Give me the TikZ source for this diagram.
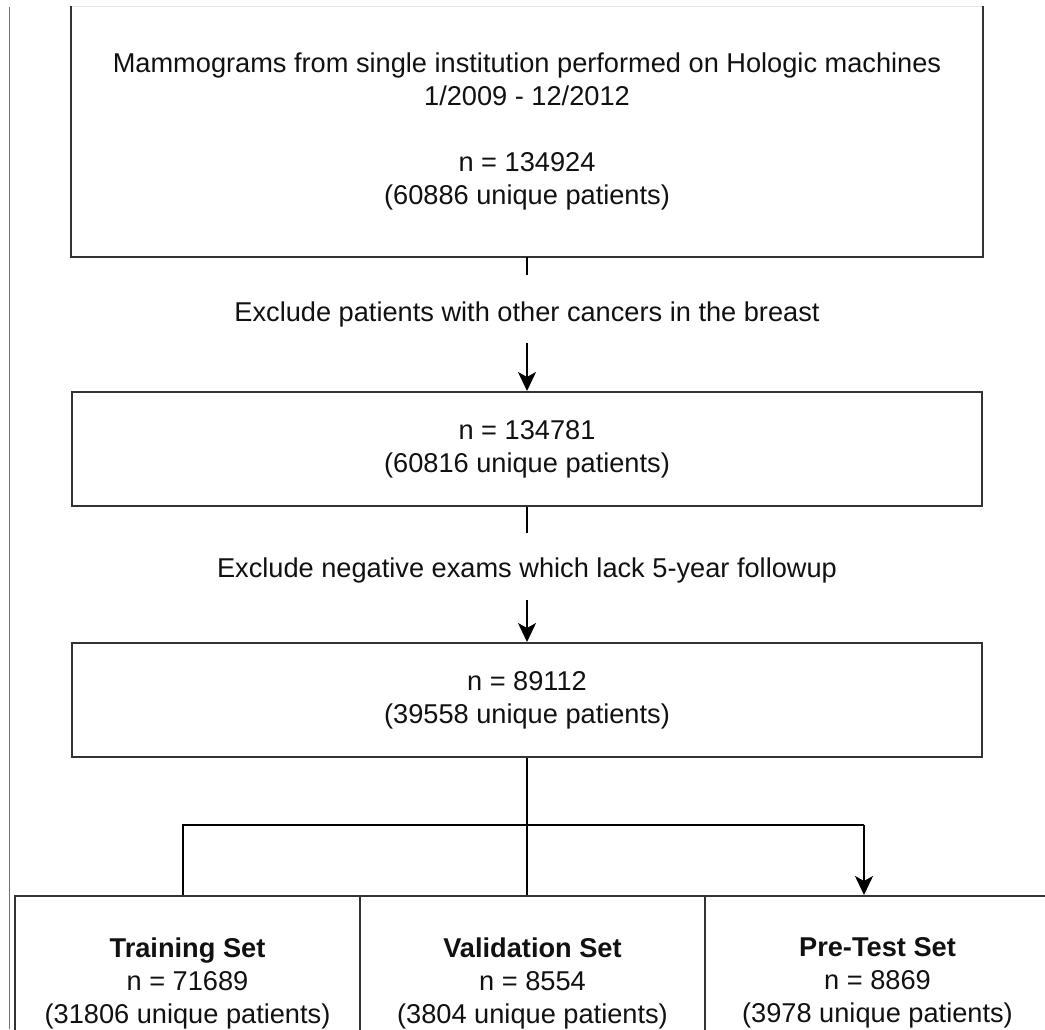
\documentclass[tikz,border=0pt]{standalone}
\usepackage{fontspec}
\setmainfont{Liberation Sans}
\usetikzlibrary{arrows.meta}
\definecolor{boxline}{HTML}{333333}
\definecolor{inktext}{HTML}{111111}
\begin{document}
\begin{tikzpicture}[x=1pt,y=-1pt,
  every node/.style={font=\fontsize{27.2}{33}\selectfont, text=inktext},
  edge line/.style={draw=boxline, line width=2pt},
  stagebox/.style={edge line, rectangle, inner sep=0pt,
    minimum width=910pt, align=center},
  splitbox/.style={edge line, rectangle, inner sep=0pt,
    minimum width=345pt, minimum height=174pt, align=center},
  note/.style={inner sep=0pt, align=center},
  link/.style={draw=black, line width=1.8pt},
  flow/.style={link, -{Stealth[length=19pt, width=18pt, inset=5pt]}}]

\useasboundingbox (0,0) rectangle (1045,1029);
\clip (0,0) rectangle (1045,1029);

% page margin rule on the left
\draw[line width=1.2pt, draw=black!55] (9.5,7) -- (9.5,1029);

% stages of the cohort selection; the first one is open at the top
\node[stagebox, draw=none, minimum height=249pt] (src) at (527,131.5)
  {Mammograms from single institution performed on Hologic machines\\
   1/2009 - 12/2012\\[33pt]
   n = 134924\\
   (60886 unique patients)};
\draw[black!10, line width=1pt] (src.north west) -- (src.north east);
\draw[edge line] (src.north west) -- (src.south west) -- (src.south east) -- (src.north east);
\node[stagebox, minimum height=114pt] (noca) at (527,449)
  {n = 134781\\(60816 unique patients)};
\node[stagebox, minimum height=114pt] (fup) at (527,700)
  {n = 89112\\(39558 unique patients)};

% exclusion steps
\node[note] (ex1) at (527,314) {Exclude patients with other cancers in the breast};
\node[note] (ex2) at (527,570) {Exclude negative exams which lack 5-year followup};
\coordinate (t1) at (527,275);
\coordinate (s1) at (527,343);
\coordinate (t2) at (527,533);
\coordinate (s2) at (527,600);
\draw[link] (src.south) -- (t1);
\draw[flow] (s1) -- (noca.north);
\draw[link] (noca.south) -- (t2);
\draw[flow] (s2) -- (fup.north);

% final split
\node[splitbox] (train) at (187.5,983)
  {\textbf{Training Set}\\n = 71689\\(31806 unique patients)};
\node[splitbox] (val) at (532.5,983)
  {\textbf{Validation Set}\\n = 8554\\(3804 unique patients)};
\node[splitbox] (pre) at (877.5,983)
  {\textbf{Pre-Test Set}\\n = 8869\\(3978 unique patients)};

\coordinate (jl) at (183,825);
\coordinate (jr) at (864,825);
\draw[link] (fup.south) -- (fup.south |- val.north);
\draw[link] (jl |- train.north) -- (jl) -- (jr);
\draw[flow] (jr) -- (jr |- pre.north);
\end{tikzpicture}
\end{document}
